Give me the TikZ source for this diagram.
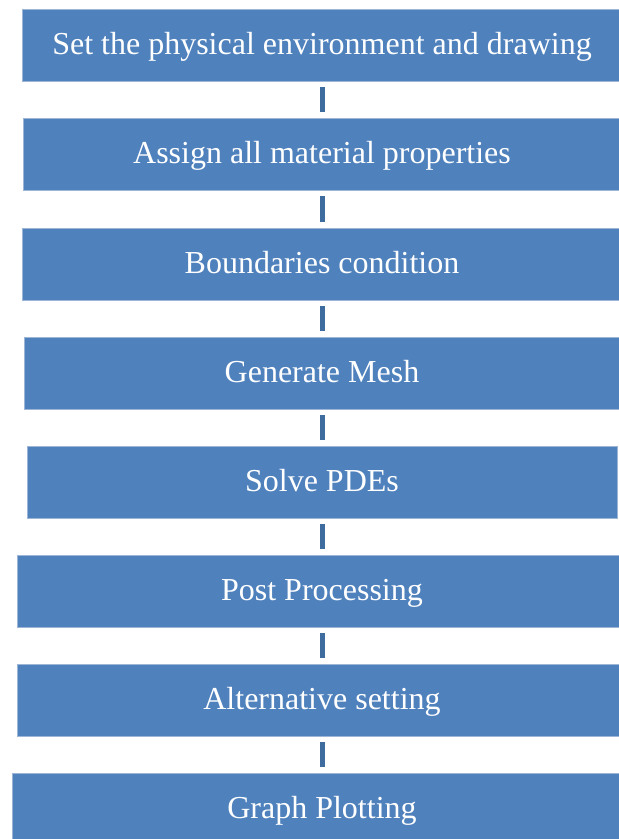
\documentclass[tikz,border=0pt]{standalone}
\usepackage{fontspec}
\setmainfont{Liberation Serif}
\definecolor{boxblue}{HTML}{4F81BD}
\definecolor{boxedge}{HTML}{9DB6D8}
\definecolor{linkblue}{HTML}{3F6C9F}
\tikzset{
  stepbox/.style={fill=boxblue, draw=boxedge, line width=0.8pt, minimum height=72pt,
    text=white, font=\fontsize{32}{36}\selectfont, inner sep=0pt, anchor=center,
    text height=24pt, text depth=4pt},
  link/.style={draw=linkblue, line width=5pt}
}
\begin{document}
\begin{tikzpicture}[x=1pt,y=1pt]
\useasboundingbox (0,0) rectangle (619,839);
\clip (0,0) rectangle (619,839);
\fill[white] (0,0) rectangle (619,839);
\node[stepbox, minimum width=600pt] (b1) at (322,794) {Set the physical environment and drawing};
\node[stepbox, minimum width=598pt] (b2) at (322,685) {Assign all material properties};
\node[stepbox, minimum width=600pt] (b3) at (322,575) {Boundaries condition};
\node[stepbox, minimum width=596pt] (b4) at (322,466) {Generate Mesh};
\node[stepbox, minimum width=590pt] (b5) at (322,357) {Solve PDEs};
\node[stepbox, minimum width=610pt] (b6) at (322,248) {Post Processing};
\node[stepbox, minimum width=610pt] (b7) at (322,139) {Alternative setting};
\node[stepbox, minimum width=620pt] (b8) at (322,30) {Graph Plotting};
\foreach \a/\b in {b1/b2,b2/b3,b3/b4,b4/b5,b5/b6,b6/b7,b7/b8}
  \draw[link] ([yshift=-6pt]\a.south) -- ([yshift=6pt]\b.north);
\end{tikzpicture}
\end{document}
